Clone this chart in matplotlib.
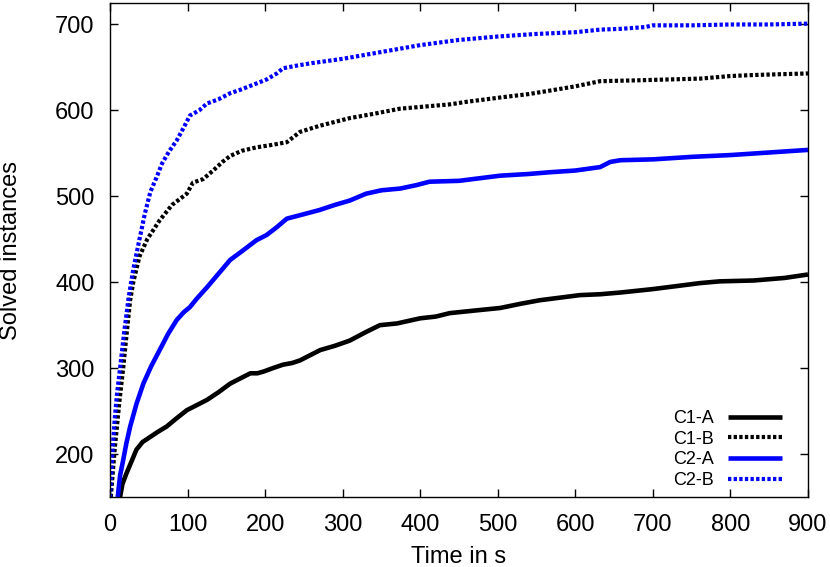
import matplotlib
matplotlib.use("Agg")
import matplotlib.pyplot as plt

plt.rcParams['font.family'] = ['Liberation Sans', 'DejaVu Sans']

c1a_x = [13, 16, 21, 28, 34, 42, 52, 62, 73, 85, 99, 112, 125, 140, 155, 168, 181, 190, 198, 210, 223, 235, 245, 258, 271, 290, 309, 330, 348, 370, 400, 420, 438, 470, 503, 530, 554, 580, 606, 632, 658, 700, 735, 761, 786, 830, 870, 900]
c1a_y = [150, 165, 177, 192, 205, 214, 220, 226, 232, 241, 251, 257, 263, 272, 282, 288, 294, 294, 296, 300, 304, 306, 309, 315, 321, 326, 332, 342, 350, 352, 358, 360, 364, 367, 370, 375, 379, 382, 385, 386, 388, 392, 396, 399, 401, 402, 405, 409]

c1b_x = [1, 6, 12, 17, 22, 26, 30, 38, 48, 64, 80, 99, 107, 120, 133, 145, 155, 170, 189, 210, 228, 245, 270, 309, 340, 374, 400, 438, 460, 503, 540, 567, 600, 632, 680, 720, 761, 800, 825, 860, 900]
c1b_y = [150, 205, 260, 300, 345, 379, 400, 430, 450, 472, 490, 503, 516, 520, 530, 540, 547, 553, 557, 560, 563, 575, 582, 591, 596, 602, 604, 607, 610, 615, 619, 623, 628, 634, 635, 636, 637, 640, 641, 642, 643]

c2a_x = [10, 13, 17, 21, 26, 34, 43, 53, 64, 75, 86, 95, 103, 112, 125, 140, 155, 170, 189, 202, 215, 228, 245, 270, 290, 309, 330, 350, 374, 395, 412, 450, 503, 540, 567, 600, 632, 645, 658, 700, 752, 800, 850, 900]
c2a_y = [150, 175, 193, 212, 232, 258, 282, 302, 321, 340, 356, 365, 371, 381, 394, 410, 426, 436, 449, 455, 464, 474, 478, 484, 490, 495, 503, 507, 509, 513, 517, 518, 524, 526, 528, 530, 534, 540, 542, 543, 546, 548, 551, 554]

c2b_x = [0, 3, 6, 9, 13, 18, 24, 30, 38, 45, 52, 60, 67, 76, 86, 95, 103, 115, 125, 140, 155, 168, 185, 202, 215, 223, 240, 260, 300, 350, 400, 450, 500, 550, 600, 632, 660, 690, 700, 750, 800, 850, 900]
c2b_y = [150, 200, 240, 270, 300, 340, 382, 415, 450, 480, 505, 522, 538, 552, 565, 580, 594, 600, 608, 613, 620, 624, 630, 636, 643, 649, 652, 655, 660, 668, 676, 682, 686, 689, 691, 694, 695, 697, 699, 699, 700, 700, 701]

labels = ["C1-A", "C1-B", "C2-A", "C2-B"]
xticks = [0, 100, 200, 300, 400, 500, 600, 700, 800, 900]
yticks = [200, 300, 400, 500, 600, 700]

fig = plt.figure(figsize=(8.3, 5.67), dpi=100)
ax = fig.add_axes([110/830, 1-497/567, 698/830, 494/567])

dot = (0, (0.8, 0.55))
ax.plot(c1a_x, c1a_y, color='black', lw=3.3, solid_capstyle='butt', label=labels[0])
ax.plot(c1b_x, c1b_y, color='black', lw=3.0, linestyle=dot, dash_capstyle='butt', label=labels[1])
ax.plot(c2a_x, c2a_y, color='#0000ff', lw=3.3, solid_capstyle='butt', label=labels[2])
ax.plot(c2b_x, c2b_y, color='#0000ff', lw=3.0, linestyle=dot, dash_capstyle='butt', label=labels[3])

ax.set_xlim(0, 900)
ax.set_ylim(150, 725)
ax.set_xticks(xticks)
ax.set_yticks(yticks)
ax.tick_params(direction='in', length=6, width=1, top=True, right=True, labelsize=17)
ax.tick_params(axis='y', pad=11)
ax.tick_params(axis='x', pad=12)
for s in ax.spines.values():
    s.set_linewidth(1)

ax.set_xlabel("Time in s", fontsize=17)
ax.set_ylabel("Solved instances", fontsize=17)
ax.xaxis.set_label_coords(0.5, -49/494)
ax.yaxis.set_label_coords(-88/698, 0.5)

leg = ax.legend(loc='lower right', bbox_to_anchor=(672/698, 8/494), frameon=False,
                markerfirst=False, fontsize=13, handlelength=3.0, handletextpad=0.8,
                labelspacing=0.2, borderpad=0, borderaxespad=0)

fig.savefig("out.png", dpi=100)
